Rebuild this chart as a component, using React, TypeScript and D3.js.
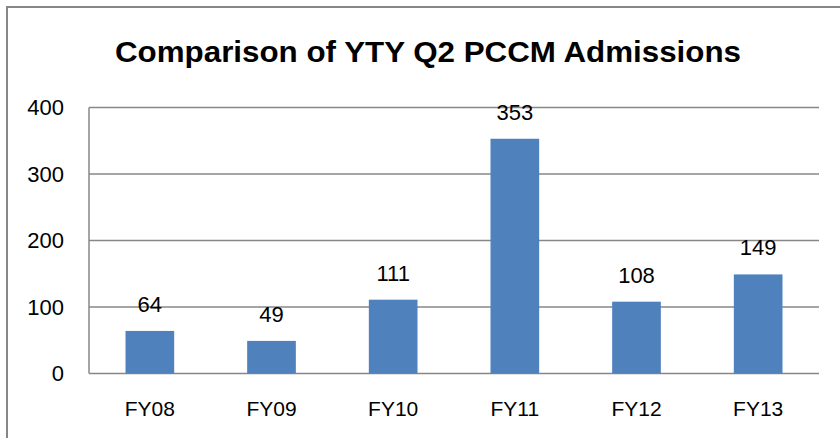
import React from 'react';
import * as d3 from 'd3';

// chart data
const categories = ['FY08', 'FY09', 'FY10', 'FY11', 'FY12', 'FY13'];
const admissions = [64, 49, 111, 353, 108, 149];
const yTicks = [0, 100, 200, 300, 400];

const App = () => {
  const width = 840;
  const height = 438;
  const margin = { top: 107.5, right: 21, bottom: 64.5, left: 89 };

  const xScale = d3.scaleBand<string>()
    .domain(categories)
    .range([margin.left, width - margin.right])
    .padding(0);

  const yScale = d3.scaleLinear()
    .domain([0, 400])
    .range([height - margin.bottom, margin.top]);

  // Excel style gap width 150% -> bar is 40% of the category
  const barW = xScale.bandwidth() * 0.4;
  const font = '"Liberation Sans", Arial, sans-serif';

  return (
    <svg width={width} height={height}
      style={{ position: 'absolute', left: 0, top: 0, background: '#fff' }}>
      {/* outer chart border */}
      <rect x={7} y={7} width={width + 20} height={height + 20}
        fill="none" stroke="#878787" strokeWidth={2} />

      <text x={428} y={62} textAnchor="middle" fontFamily={font}
        fontWeight="bold" fontSize={29} textLength={626}
        lengthAdjust="spacingAndGlyphs" fill="#000">
        Comparison of YTY Q2 PCCM Admissions
      </text>

      {/* gridlines */}
      {yTicks.map(t => (
        <line key={t} x1={margin.left} x2={width - margin.right}
          y1={yScale(t)} y2={yScale(t)} stroke="#878787" strokeWidth={1.5} />
      ))}
      <line x1={margin.left} x2={margin.left} y1={yScale(400)} y2={yScale(0)}
        stroke="#878787" strokeWidth={1.5} />

      {/* y tick labels */}
      {yTicks.map(t => (
        <text key={t} x={64} y={yScale(t)} dy="0.36em" textAnchor="end"
          fontFamily={font} fontSize={22} fill="#000">{t}</text>
      ))}

      {/* bars */}
      {categories.map((c, i) => {
        const cx = (xScale(c) as number) + xScale.bandwidth() / 2;
        const v = admissions[i];
        return (
          <g key={c}>
            <rect x={cx - barW / 2} y={yScale(v)} width={barW}
              height={yScale(0) - yScale(v)} fill="#4F81BD" />
            <text x={cx} y={yScale(v) - 19} textAnchor="middle"
              fontFamily={font} fontSize={22} fill="#000">{v}</text>
            <text x={cx} y={416} textAnchor="middle"
              fontFamily={font} fontSize={21} fill="#000">{c}</text>
          </g>
        );
      })}
    </svg>
  );
};

export default App;
